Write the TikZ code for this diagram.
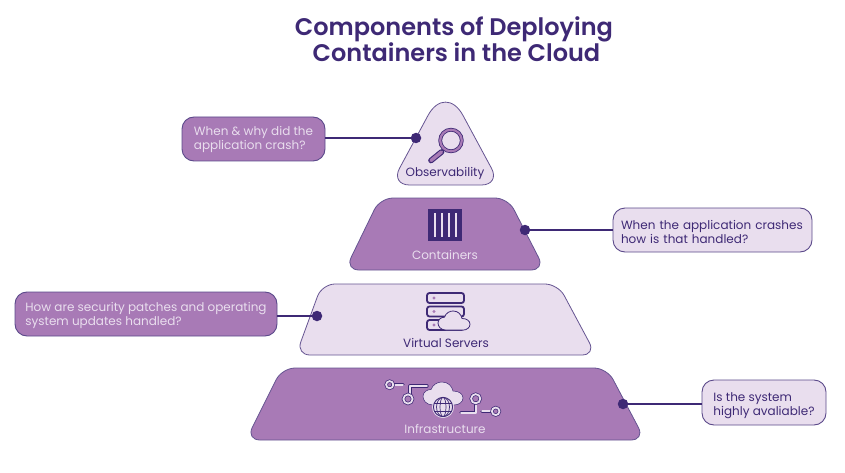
\documentclass[tikz,border=0pt]{standalone}
\usepackage{fontspec}
\setmainfont{Poppins}
\newfontfamily\titlefont{Poppins SemiBold}
\usepackage{tikz}
\definecolor{ink}{HTML}{3E2975}
\definecolor{midpurple}{HTML}{A87AB6}
\definecolor{palepurple}{HTML}{E9DEEE}
\newcommand{\pushtext}[1]{\rule{0pt}{#1pt}}
\tikzset{
	tier_dark/.style={fill=midpurple,draw=ink!80,line width=0.8pt},
	tier_light/.style={fill=palepurple,draw=ink!80,line width=0.8pt},
	tier_label/.style={font=\fontsize{12}{14}\selectfont,inner sep=0pt},
	box_dark/.style={rectangle,rounded corners=12pt,fill=midpurple,draw=ink!85,line width=0.9pt,text=palepurple,align=left,font=\fontsize{12}{14}\selectfont,inner ysep=0pt},
	box_light/.style={rectangle,rounded corners=12pt,fill=palepurple,draw=ink!85,line width=0.9pt,text=ink,align=left,font=\fontsize{12}{14}\selectfont,inner ysep=0pt},
	dot_node/.style={circle,fill=ink,draw=none,minimum size=10.5pt,inner sep=0pt},
	link_line/.style={draw=ink,line width=1.6pt},
	wire_back/.style={draw=ink,line width=3.2pt,line cap=round,line join=round},
	wire_front/.style={draw=palepurple,line width=1.8pt,line cap=round,line join=round},
	cloud_shape/.pic={
		\path[pic actions] (10,23) .. controls (3,23) and (0,18) .. (0,14.5)
			.. controls (0,10) and (4,7.5) .. (8,7.5)
			.. controls (10,2) and (15,0) .. (19,0)
			.. controls (25,0) and (29,4) .. (30,9)
			.. controls (36,9) and (40,12) .. (40,16)
			.. controls (40,20) and (36,23) .. (31,23) -- cycle;
	}
}
\begin{document}
\begin{tikzpicture}[x=1pt,y=-1pt]
	\useasboundingbox (0,0) rectangle (845,473);
	\node[font=\fontsize{24}{26}\titlefont,text=ink,align=center,inner sep=0pt] (title) at (454,39) {Components of Deploying\\\hspace*{5pt}Containers in the Cloud};

	% tiers
	\draw[tier_light,rounded corners=19pt] (445.5,185) -- (390.5,185) [rounded corners=37pt] -- (445.5,83) [rounded corners=19pt] -- (500.5,185) -- cycle;
	\draw[tier_dark,rounded corners=14pt] (445,270) -- (345,270) [rounded corners=13pt] -- (380,198) -- (508,198) [rounded corners=14pt] -- (545,270) -- cycle;
	\draw[tier_light,rounded corners=14pt] (445,355) -- (296,355) [rounded corners=13pt] -- (322,284) -- (558,284) [rounded corners=14pt] -- (596,355) -- cycle;
	\draw[tier_dark,rounded corners=14pt] (445,440) -- (246,440) [rounded corners=13pt] -- (282,368) -- (607,368) [rounded corners=14pt] -- (645,440) -- cycle;

	% magnifier
	\draw[ink,line width=5.6pt,line cap=round] (441.5,152) -- (431,160.5);
	\draw[midpurple,line width=3.4pt,line cap=round] (441.5,152) -- (431,160.5);
	\draw[ink,line width=3.8pt] (451,140.5) circle (10.8);
	\draw[midpurple,line width=2.2pt] (451,140.5) circle (10.8);

	% container icon
	\fill[ink] (428,209) rectangle (462,241);
	\foreach \barx in {434.5,442,449,455.5}
		\fill[palepurple] (\barx-1,213) rectangle (\barx+1,237);

	% server icon
	\draw[ink,line width=1.8pt,rounded corners=2.5pt] (427,293) rectangle (464,303);
	\draw[ink,line width=1.8pt,rounded corners=2.5pt] (427,306.5) rectangle (464,316.5);
	\draw[ink,line width=1.8pt,rounded corners=2.5pt] (427,320) rectangle (464,330);
	\foreach \doty in {298,311.5,325}
		\fill[midpurple] (434,\doty) circle (1.7);
	\pic[fill=palepurple,draw=ink,line width=0.8pt,xscale=.8,yscale=.83] at (438,311) {cloud_shape};

	% infrastructure icon
	\draw[wire_back] (403,384.7) -- (393,384.7);
	\draw[wire_front] (403,384.7) -- (393,384.7);
	\draw[wire_back] (410,394) -- (410,386) -- (427,386);
	\draw[wire_front] (410,394) -- (410,386) -- (427,386);
	\draw[wire_back] (475.7,403) -- (475.7,412.7) -- (461,412.7);
	\draw[wire_front] (475.7,403) -- (475.7,412.7) -- (461,412.7);
	\draw[wire_back] (482,411.3) -- (492,411.3);
	\draw[wire_front] (482,411.3) -- (492,411.3);
	\foreach \ringx/\ringy/\ringr in {389.7/384.7/3.6,408/399/4.6,475.7/398.7/4.6,495.7/411.3/3.8} {
		\draw[ink,line width=3.2pt] (\ringx,\ringy) circle (\ringr);
		\draw[palepurple,line width=1.8pt] (\ringx,\ringy) circle (\ringr);
	}
	\pic[fill=palepurple,draw=ink,line width=0.5pt] at (423,382) {cloud_shape};
	\fill[palepurple] (443,407) circle (11);
	\draw[ink,line width=0.9pt] (443,407) circle (9.6);
	\draw[ink,line width=0.7pt] (443,407) ellipse [x radius=3,y radius=9.6];
	\draw[ink,line width=0.7pt] (443,407) ellipse [x radius=6.5,y radius=9.6];
	\draw[ink,line width=0.7pt] (434.2,403) -- (451.8,403);
	\draw[ink,line width=0.7pt] (434.2,411) -- (451.8,411);

	% tier labels
	\node[tier_label,text=ink] (observability) at (445,173) {Observability};
	\node[tier_label,text=palepurple] (containers) at (445,254.5) {Containers};
	\node[tier_label,text=ink] (virtual_servers) at (446,342.5) {Virtual Servers};
	\node[tier_label,text=palepurple] (infrastructure) at (445,428.5) {Infrastructure};

	% question boxes
	\node[box_dark,minimum width=143pt,minimum height=44pt] (why_box) at (253.5,139) {\pushtext{11}When \& why did the\\application crash?};
	\node[box_light,inner xsep=8pt,text width=183pt,minimum height=44pt] (how_box) at (712.5,230) {\pushtext{13}When the application crashes\\how is that handled?};
	\node[box_dark,minimum width=262pt,minimum height=44pt] (patch_box) at (146,314) {\pushtext{13}How are security patches and operating\\system updates handled?};
	\node[box_light,minimum width=124pt,minimum height=45pt] (avail_box) at (764,402.5) {\pushtext{15}Is the system\\highly avaliable?};

	% dots and links
	\node[dot_node] (observability_dot) at (416,138) {};
	\node[dot_node] (containers_dot) at (525,230) {};
	\node[dot_node] (servers_dot) at (317,316) {};
	\node[dot_node] (infrastructure_dot) at (623,404) {};

	\draw[link_line] (observability_dot) -- (observability_dot -| why_box.east);
	\draw[link_line] (containers_dot) -- (containers_dot -| how_box.west);
	\draw[link_line] (servers_dot) -- (servers_dot -| patch_box.east);
	\draw[link_line] (infrastructure_dot) -- (infrastructure_dot -| avail_box.west);
\end{tikzpicture}
\end{document}
